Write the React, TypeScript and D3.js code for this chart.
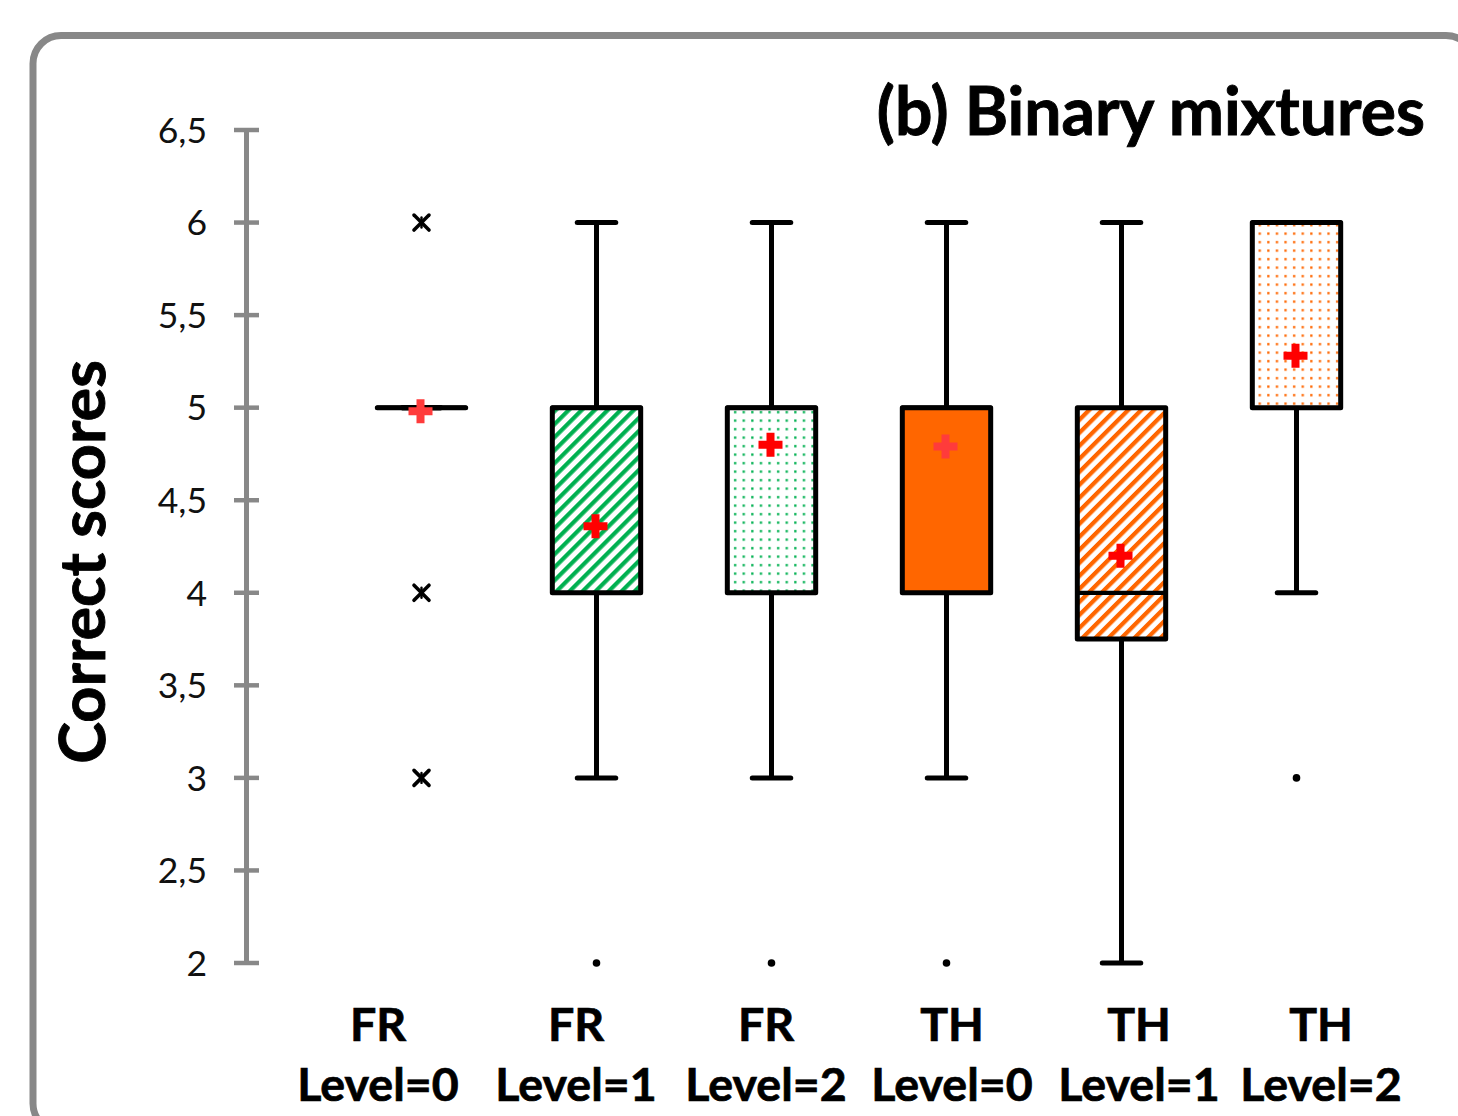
import React from 'react';
import * as d3 from 'd3';

// ---- data ----
const categories = ['FR L0', 'FR L1', 'FR L2', 'TH L0', 'TH L1', 'TH L2'];
const groupLabels = ['FR', 'FR', 'FR', 'TH', 'TH', 'TH'];
const levelLabels = ['Level=0', 'Level=1', 'Level=2', 'Level=0', 'Level=1', 'Level=2'];
const whiskerLow = [5, 3, 3, 3, 2, 4];
const q1Values = [5, 4, 4, 4, 3.75, 5];
const medianValues = [5, 5, 5, 5, 4, 6];
const q3Values = [5, 5, 5, 5, 5, 6];
const whiskerHigh = [5, 6, 6, 6, 6, 6];
const meanValues = [4.98, 4.36, 4.8, 4.79, 4.2, 5.28];
const dotOutliers: number[][] = [[], [2], [2], [2], [], [3]];
const starOutliers: number[][] = [[6, 4, 3], [], [], [], [], []];
const yTicks = [2, 2.5, 3, 3.5, 4, 4.5, 5, 5.5, 6, 6.5];
const yTickLabels = ['2', '2,5', '3', '3,5', '4', '4,5', '5', '5,5', '6', '6,5'];
const title = '(b) Binary mixtures';
const yTitle = 'Correct scores';

// ---- style / layout config ----
const boxFills = ['none', 'url(#greenStripes)', 'url(#greenDots)', '#FF6600', 'url(#orangeStripes)', 'url(#orangeDots)'];
const labelRange = [378, 576, 766, 952, 1139, 1321];
const GREEN = '#00B050';
const ORANGE = '#FF6600';

export default function App() {
  const W = 1458, H = 1116;
  const x = d3.scaleLinear().domain([-1, 5]).range([246.5, 1296.5]);
  const xLabel = d3.scaleOrdinal<string, number>().domain(categories).range(labelRange);
  const y = d3.scaleLinear().domain([2, 6.5]).range([963, 130]);
  const step = x(1) - x(0);
  const boxW = step * 0.505;
  const capW = step * 0.22;
  const font = 'Lato, "Open Sans", sans-serif';
  const LW = 5;

  const plus = (cx: number, cy: number) => {
    const a = 12, t = 4;
    const p = d3.path();
    p.moveTo(cx - t, cy - a);
    p.lineTo(cx + t, cy - a);
    p.lineTo(cx + t, cy - t);
    p.lineTo(cx + a, cy - t);
    p.lineTo(cx + a, cy + t);
    p.lineTo(cx + t, cy + t);
    p.lineTo(cx + t, cy + a);
    p.lineTo(cx - t, cy + a);
    p.lineTo(cx - t, cy + t);
    p.lineTo(cx - a, cy + t);
    p.lineTo(cx - a, cy - t);
    p.lineTo(cx - t, cy - t);
    p.closePath();
    return p.toString();
  };

  return (
    <svg width={W} height={H} style={{ position: 'absolute', left: 0, top: 0, background: '#fff' }}>
      <defs>
        <pattern id="greenStripes" patternUnits="userSpaceOnUse" width={9.2} height={9.2} patternTransform="rotate(45)">
          <rect x={0} y={0} width={4.2} height={9.2} fill={GREEN} />
        </pattern>
        <pattern id="orangeStripes" patternUnits="userSpaceOnUse" width={9.2} height={9.2} patternTransform="rotate(45)">
          <rect x={0} y={0} width={4.2} height={9.2} fill={ORANGE} />
        </pattern>
        <pattern id="greenDots" patternUnits="userSpaceOnUse" width={8.6} height={8.5}>
          <rect x={3} y={3} width={2.3} height={2.3} fill={GREEN} />
        </pattern>
        <pattern id="orangeDots" patternUnits="userSpaceOnUse" width={8.6} height={8.5}>
          <rect x={3} y={3} width={2.3} height={2.3} fill={ORANGE} />
        </pattern>
      </defs>
      <rect x={0} y={0} width={W} height={H} fill="#fff" />
      {/* frame */}
      <rect x={33} y={35.5} width={1441} height={1096} rx={28} ry={28} fill="none" stroke="#888888" strokeWidth={7} />

      {/* title */}
      <text x={1425} y={135} textAnchor="end" fontFamily={font} fontWeight={700} fontSize={66} fill="#000" stroke="#000" strokeWidth={0.9}>{title}</text>

      {/* y axis title */}
      <text transform={`translate(105, 562) rotate(-90)`} textAnchor="middle" fontFamily={font} fontWeight={700} fontSize={63} fill="#000" stroke="#000" strokeWidth={0.9}>{yTitle}</text>

      {/* y axis */}
      <line x1={246.5} x2={246.5} y1={y(6.5)} y2={y(2)} stroke="#888888" strokeWidth={5} />
      {yTicks.map((t, i) => (
        <g key={t}>
          <line x1={234} x2={259} y1={y(t)} y2={y(t)} stroke="#888888" strokeWidth={4.5} />
          <text x={207} y={y(t)} dy="0.36em" textAnchor="end" fontFamily={font} fontSize={35.5} fill="#111">{yTickLabels[i]}</text>
        </g>
      ))}

      {/* boxes */}
      {categories.map((c, i) => {
        const cx = x(i);
        const bp = d3.path();
        bp.moveTo(cx - boxW / 2, y(q3Values[i]));
        bp.lineTo(cx + boxW / 2, y(q3Values[i]));
        bp.lineTo(cx + boxW / 2, y(q1Values[i]));
        bp.lineTo(cx - boxW / 2, y(q1Values[i]));
        bp.closePath();
        return (
          <g key={c}>
            {/* whiskers */}
            <line x1={cx} x2={cx} y1={y(whiskerHigh[i])} y2={y(q3Values[i])} stroke="#000" strokeWidth={LW} />
            <line x1={cx} x2={cx} y1={y(q1Values[i])} y2={y(whiskerLow[i])} stroke="#000" strokeWidth={LW} />
            <line x1={cx - capW / 2} x2={cx + capW / 2} y1={y(whiskerHigh[i])} y2={y(whiskerHigh[i])} stroke="#000" strokeWidth={LW} strokeLinecap="round" />
            <line x1={cx - capW / 2} x2={cx + capW / 2} y1={y(whiskerLow[i])} y2={y(whiskerLow[i])} stroke="#000" strokeWidth={LW} strokeLinecap="round" />
            {/* box */}
            <path d={bp.toString()} fill={boxFills[i]} stroke="#000" strokeWidth={LW} strokeLinejoin="round" strokeLinecap="round" />
            {/* median */}
            <line x1={cx - boxW / 2} x2={cx + boxW / 2} y1={y(medianValues[i])} y2={y(medianValues[i])} stroke="#000" strokeWidth={4.2} strokeLinecap="round" />
            {/* outliers */}
            {dotOutliers[i].map((v, k) => (
              <circle key={'d' + k} cx={cx} cy={y(v)} r={3.8} fill="#000" />
            ))}
            {starOutliers[i].map((v, k) => (
              <g key={'s' + k} stroke="#000" strokeWidth={3.6} strokeLinecap="round">
                <line x1={cx - 7.5} x2={cx + 7.5} y1={y(v) - 7.5} y2={y(v) + 7.5} />
                <line x1={cx - 7.5} x2={cx + 7.5} y1={y(v) + 7.5} y2={y(v) - 7.5} />
                <line x1={cx} x2={cx} y1={y(v) - 5} y2={y(v) + 5} strokeWidth={2.4} />
              </g>
            ))}
            {/* mean */}
            <path d={plus(cx - 1, y(meanValues[i]))} fill={i === 0 || i === 3 ? '#FF3B3B' : '#FF0000'} />
          </g>
        );
      })}

      {/* category labels */}
      {categories.map((c, i) => (
        <g key={'l' + c} fontFamily={font} fontWeight={700} fontSize={46.5} fill="#000" stroke="#000" strokeWidth={0.7} textAnchor="middle">
          <text x={xLabel(c)} y={1041}>{groupLabels[i]}</text>
          <text x={xLabel(c)} y={1101}>{levelLabels[i]}</text>
        </g>
      ))}
    </svg>
  );
}
